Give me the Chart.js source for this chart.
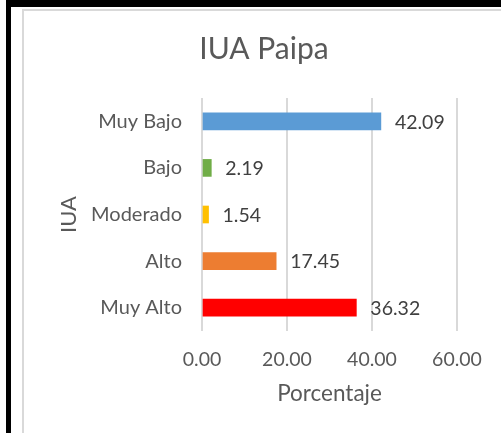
<!DOCTYPE html>
<html>
<head>
<meta charset="utf-8">
<script src="https://cdn.jsdelivr.net/npm/chart.js@4.4.1/dist/chart.umd.min.js"></script>
<style>
  html, body { margin: 0; padding: 0; background: #fff; }
  body { width: 501px; height: 433px; position: relative; overflow: hidden; }
  .black_top { position: absolute; left: 6px; top: 0; width: 495px; height: 7px; background: #000; }
  .black_left { position: absolute; left: 6px; top: 0; width: 5px; height: 433px; background: #000; }
  .chart_box { position: absolute; left: 22px; top: 9px; width: 479px; height: 424px;
    border-left: 2px solid #d9d9d9; border-top: 2px solid #d9d9d9; box-sizing: border-box; }
  canvas { display: block; }
</style>
</head>
<body>
<div class="black_top"></div>
<div class="black_left"></div>
<div class="chart_box">
  <canvas id="iua_paipa" width="477" height="422"></canvas>
</div>
<script>
const categories = ['Muy Bajo', 'Bajo', 'Moderado', 'Alto', 'Muy Alto']
const porcentajes = [42.09, 2.19, 1.54, 17.45, 36.32]
const barColors = ['#5B9BD5', '#70AD47', '#FFC000', '#ED7D31', '#FF0000']
const xTicks = [0, 20, 40, 60]
const chartTitle = 'IUA Paipa'

const fontName = 'Lato'

// title over the whole box (chart.js would center it over the padded area)
// and the value written next to each bar
const textBits = {
  id: 'textBits',
  afterDatasetsDraw(chart) {
    const ctx = chart.ctx
    ctx.save()
    ctx.font = '30px ' + fontName
    ctx.fillStyle = '#595959'
    ctx.textAlign = 'center'
    ctx.textBaseline = 'middle'
    ctx.fillText(chartTitle, 240, 38)

    const meta = chart.getDatasetMeta(0)
    ctx.font = '19.5px ' + fontName
    ctx.fillStyle = '#404040'
    ctx.textAlign = 'left'
    meta.data.forEach((bar, i) => {
      ctx.fillText(porcentajes[i].toFixed(2), bar.x + 14, bar.y + 1)
    })
    ctx.restore()
  }
}

const ctx = document.getElementById('iua_paipa')

new Chart(ctx, {
  type: 'bar',
  data: {
    labels: categories,
    datasets: [{
      data: porcentajes,
      backgroundColor: barColors,
      barThickness: 17
    }]
  },
  options: {
    indexAxis: 'y',
    responsive: false,
    animation: false,
    layout: { padding: { left: 0, right: 44, top: 87, bottom: 0 } },
    plugins: {
      legend: { display: false },
      tooltip: { enabled: false },
      title: { display: false }
    },
    scales: {
      x: {
        min: 0,
        max: 60,
        afterBuildTicks(scale) {
          scale.ticks = xTicks.map(v => ({ value: v }))
        },
        afterFit(scale) { scale.height = 102 },
        ticks: {
          color: '#595959',
          font: { family: fontName, size: 19.5 },
          padding: 17,
          callback: v => v.toFixed(2)
        },
        grid: { color: '#d9d9d9', lineWidth: 2, drawTicks: false },
        border: { display: false },
        title: {
          display: true,
          text: 'Porcentaje',
          color: '#595959',
          font: { family: fontName, size: 22.5 },
          padding: { top: 0, bottom: 25.5 }
        }
      },
      y: {
        afterFit(scale) { scale.width = 178 },
        ticks: {
          color: '#595959',
          font: { family: fontName, size: 20 },
          padding: 12
        },
        grid: { display: false },
        border: { display: false },
        title: {
          display: true,
          text: 'IUA',
          color: '#595959',
          font: { family: fontName, size: 22 },
          padding: { top: 32, bottom: 0 }
        }
      }
    }
  },
  plugins: [textBits]
})
</script>
</body>
</html>
